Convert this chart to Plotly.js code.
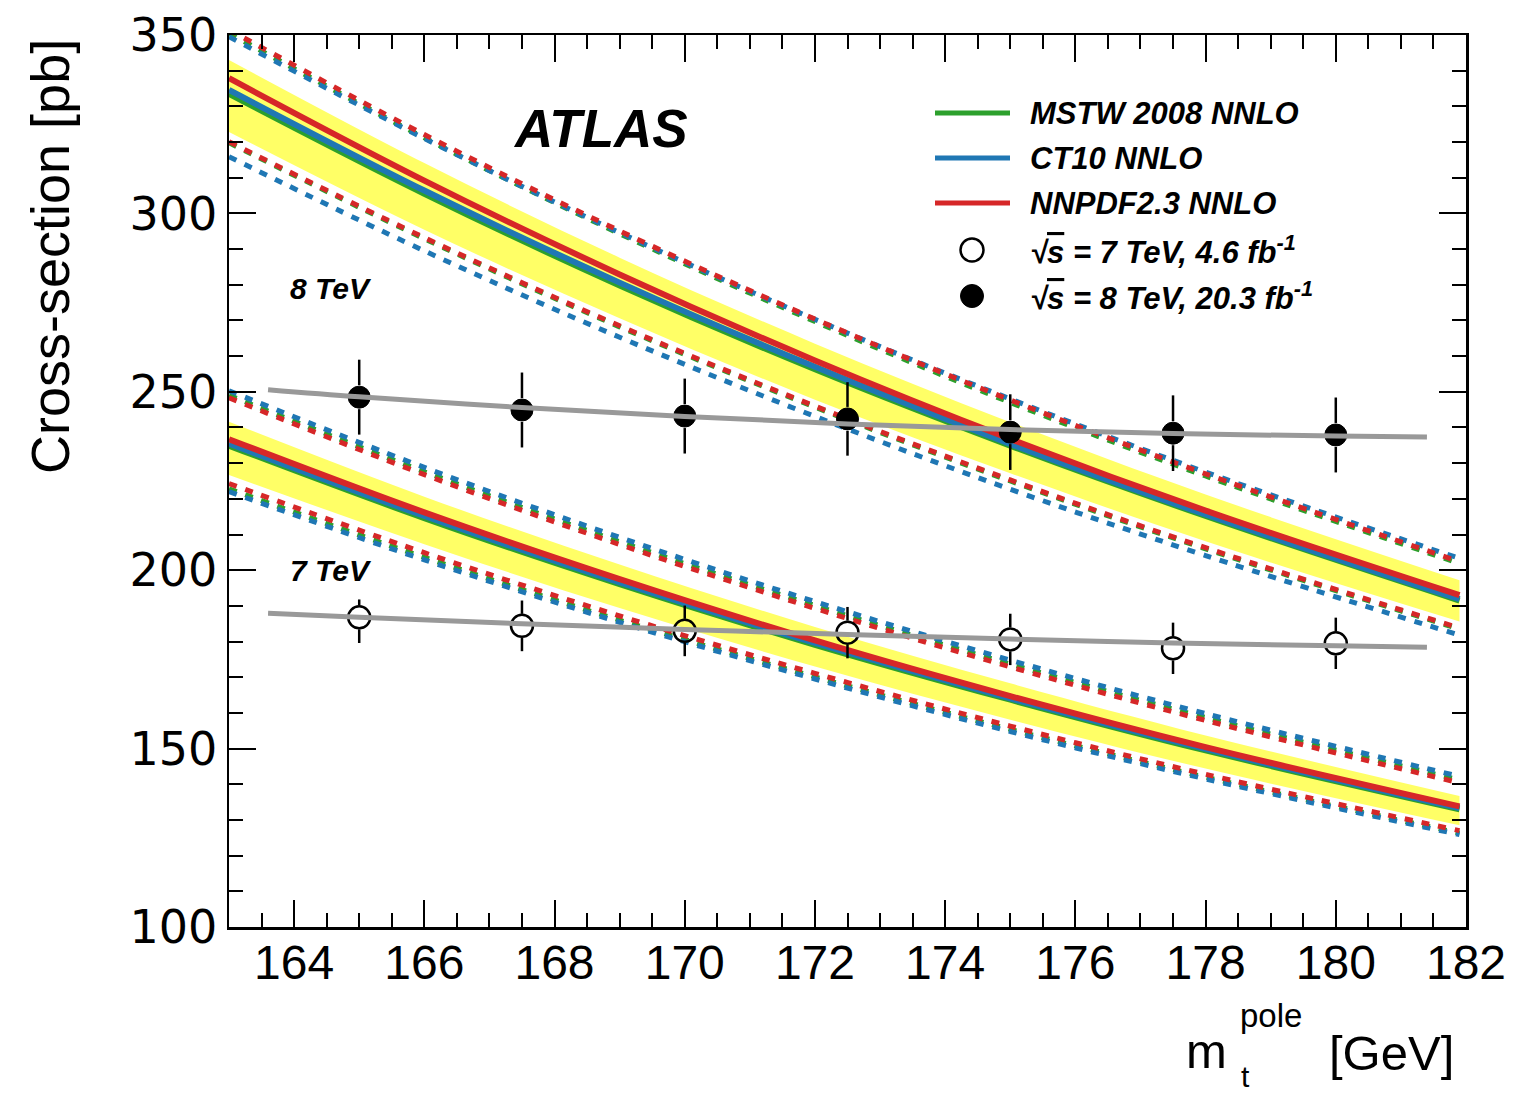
<!DOCTYPE html>
<html><head><meta charset="utf-8">
<script src="https://cdn.plot.ly/plotly-3.0.1.min.js"></script>
<style>html,body{margin:0;padding:0;background:#fff}</style>
</head><body><div id="chart" style="width:1514px;height:1096px"></div>
<script>
// ---------- data ----------
const massTheory = [163, 166, 169, 172, 175, 178, 181.9];
// 8 TeV central predictions
const mstw8  = [333.5, 305.5, 279.8, 256.3, 234.9, 215.2, 191.5];
const ct10_8 = [334.6, 306.4, 280.6, 257.0, 235.4, 215.6, 191.9];
const nnpdf8 = [337.9, 309.2, 282.9, 258.8, 236.8, 216.7, 193.0];
// 8 TeV total uncertainty (dashed)
const mstw8Up  = [350.5, 321.2, 294.3, 269.7, 247.0, 226.4, 201.9];
const ct10_8Up = [349.5, 321.0, 294.6, 270.3, 248.0, 227.5, 203.3];
const nnpdf8Up = [351.5, 322.1, 295.1, 270.4, 247.7, 227.0, 202.4];
const mstw8Dn  = [319.8, 292.9, 268.2, 245.7, 225.0, 206.0, 183.5];
const ct10_8Dn = [315.9, 289.5, 265.3, 243.1, 222.7, 204.1, 181.8];
const nnpdf8Dn = [320.1, 293.2, 268.5, 246.0, 225.3, 206.3, 183.8];
// 8 TeV QCD scale band
const scale8Up = [343.0, 314.1, 287.6, 263.5, 241.5, 221.2, 197.2];
const scale8Dn = [322.8, 295.4, 270.6, 247.8, 227.2, 208.1, 185.6];
// 7 TeV central predictions
const mstw7  = [234.9, 214.6, 196.1, 179.1, 163.7, 149.5, 133.0];
const ct10_7 = [235.5, 215.2, 196.6, 179.6, 164.1, 149.9, 133.3];
const nnpdf7 = [236.7, 216.2, 197.5, 180.3, 164.7, 150.4, 133.8];
const mstw7Up  = [249.0, 227.6, 208.0, 190.1, 173.7, 158.7, 141.2];
const ct10_7Up = [250.3, 228.8, 209.2, 191.2, 174.8, 159.8, 142.2];
const nnpdf7Up = [248.3, 226.8, 207.2, 189.3, 172.9, 157.9, 140.4];
const mstw7Dn  = [222.8, 203.6, 186.0, 170.1, 155.4, 142.0, 126.3];
const ct10_7Dn = [222.0, 202.9, 185.4, 169.5, 154.8, 141.5, 125.9];
const nnpdf7Dn = [224.3, 204.9, 187.2, 171.1, 156.3, 142.8, 127.0];
const scale7Up = [241.6, 220.6, 201.6, 184.1, 168.3, 153.7, 136.7];
const scale7Dn = [226.7, 207.3, 189.4, 173.0, 158.1, 144.4, 128.5];
// measurements
const massPoints = [165, 167.5, 170, 172.5, 175, 177.5, 180];
const xsec8 = [248.5, 244.9, 243.2, 242.4, 238.7, 238.4, 237.9];
const err8  = [10.5, 10.5, 10.5, 10.3, 10.6, 10.6, 10.5];
const xsec7 = [186.8, 184.4, 183.0, 182.5, 180.6, 178.1, 179.5];
const err7Up = [5.0, 7.1, 7.1, 7.2, 7.2, 7.2, 7.2];
const err7Dn = [7.2, 7.1, 7.1, 7.2, 7.2, 7.2, 7.2];
// parameterised mass dependence of the measurements (grey)
const massFit = [163.6, 165, 167.5, 170, 172.5, 175, 177.5, 180, 181.4];
const fit8 = [250.6, 248.6, 245.6, 243.1, 241.0, 239.4, 238.3, 237.6, 237.3];
const fit7 = [187.9, 186.8, 185.0, 183.4, 182.0, 180.7, 179.6, 178.8, 178.4];
// labels
const legendLabels = ['MSTW 2008 NNLO', 'CT10 NNLO', 'NNPDF2.3 NNLO'];
const xRange = [163, 182], yRange = [100, 350];

// ---------- style ----------
const GREEN = '#2ca02c', BLUE = '#1f77b4', RED = '#d62728', GREY = '#999999', YEL = '#ffff66';
const FONT = 'Liberation Sans, Arial, Helvetica, sans-serif';
const L = 229, R = 1466, T = 35, B = 927, W = 1514, H = 1096;
const px = x => (x - L) / (R - L);
const py = y => (B - y) / (B - T);

const traces = [];
function band(lo, hi) {
  traces.push({x: massTheory, y: lo, mode: 'lines', line: {width: 0, shape: 'spline'}, hoverinfo: 'skip', showlegend: false});
  traces.push({x: massTheory, y: hi, mode: 'lines', line: {width: 0, shape: 'spline'}, fill: 'tonexty', fillcolor: YEL, hoverinfo: 'skip', showlegend: false});
}
band(scale7Dn, scale7Up);
band(scale8Dn, scale8Up);
function line(y, color, dash, width) {
  traces.push({x: massTheory, y: y, mode: 'lines', line: {color: color, width: width, dash: dash, shape: 'spline'}, showlegend: false});
}
[[mstw8Up, GREEN], [ct10_8Up, BLUE], [nnpdf8Up, RED], [mstw8Dn, GREEN], [ct10_8Dn, BLUE], [nnpdf8Dn, RED],
 [mstw7Up, GREEN], [ct10_7Up, BLUE], [nnpdf7Up, RED], [mstw7Dn, GREEN], [ct10_7Dn, BLUE], [nnpdf7Dn, RED]]
  .forEach(d => line(d[0], d[1], '8px,9px', 5));
[[mstw8, GREEN], [ct10_8, BLUE], [nnpdf8, RED], [mstw7, GREEN], [ct10_7, BLUE], [nnpdf7, RED]]
  .forEach(d => line(d[0], d[1], 'solid', 6));

// error bars drawn outside the marker, like ROOT
const markerRadiusPx = 12;
const rData = markerRadiusPx * (yRange[1] - yRange[0]) / (B - T);
function errSegs(vals, up, dn) {
  const xs = [], ys = [];
  vals.forEach((v, i) => {
    const m = massPoints[i];
    if (up[i] > rData) { xs.push(m, m, null); ys.push(v + up[i], v + rData, null); }
    if (dn[i] > rData) { xs.push(m, m, null); ys.push(v - rData, v - dn[i], null); }
  });
  return {x: xs, y: ys, mode: 'lines', line: {color: 'black', width: 2.5}, showlegend: false, hoverinfo: 'skip'};
}
traces.push(errSegs(xsec8, err8, err8));
traces.push(errSegs(xsec7, err7Up, err7Dn));
traces.push({x: massPoints, y: xsec8, mode: 'markers', marker: {symbol: 'circle', size: 22, color: 'black', line: {width: 1, color: 'black'}}, showlegend: false});
traces.push({x: massPoints, y: xsec7, mode: 'markers', marker: {symbol: 'circle-open', size: 22, color: 'black', line: {width: 2.5, color: 'black'}}, showlegend: false});
traces.push({x: massFit, y: fit8, mode: 'lines', line: {color: GREY, width: 5, shape: 'spline'}, showlegend: false});
traces.push({x: massFit, y: fit7, mode: 'lines', line: {color: GREY, width: 5, shape: 'spline'}, showlegend: false});

// ---------- legend (drawn as in the ROOT figure) ----------
const shapes = [];
const annotations = [];
const legRows = [113, 158, 203, 250, 296];
[GREEN, BLUE, RED].forEach((c, i) => {
  shapes.push({type: 'line', xref: 'paper', yref: 'paper', x0: px(935), x1: px(1010), y0: py(legRows[i]), y1: py(legRows[i]), line: {color: c, width: 5}});
});
function circ(cx, cy, r, fill, lw) {
  shapes.push({type: 'circle', xref: 'paper', yref: 'paper', x0: px(cx - r), x1: px(cx + r), y0: py(cy + r), y1: py(cy - r),
    fillcolor: fill, line: {color: 'black', width: lw}});
}
circ(972, legRows[3], 11.5, 'rgba(0,0,0,0)', 2.5);
circ(972, legRows[4], 11.5, 'black', 1);
const legTexts = legendLabels.concat([
  '√<span style="text-decoration:overline">s</span> = 7 TeV, 4.6 fb<sup>-1</sup>',
  '√<span style="text-decoration:overline">s</span> = 8 TeV, 20.3 fb<sup>-1</sup>']);
legTexts.forEach((t, i) => annotations.push({xref: 'paper', yref: 'paper', x: px(1028), y: py(legRows[i]), xanchor: 'left', yanchor: 'middle',
  text: t, showarrow: false, font: {family: FONT, size: 31, color: 'black', weight: 'bold', style: 'italic'}}));

annotations.push({xref: 'paper', yref: 'paper', x: px(600), y: py(128), xanchor: 'center', yanchor: 'middle', text: 'ATLAS', showarrow: false,
  font: {family: FONT, size: 53, color: 'black', weight: 'bold', style: 'italic'}});
annotations.push({xref: 'paper', yref: 'paper', x: px(288), y: py(288), xanchor: 'left', yanchor: 'middle', text: '8 TeV', showarrow: false,
  font: {family: FONT, size: 30, color: 'black', weight: 'bold', style: 'italic'}});
annotations.push({xref: 'paper', yref: 'paper', x: px(288), y: py(570), xanchor: 'left', yanchor: 'middle', text: '7 TeV', showarrow: false,
  font: {family: FONT, size: 30, color: 'black', weight: 'bold', style: 'italic'}});
// axis titles (ROOT style: aligned to the end of the axis)
annotations.push({xref: 'paper', yref: 'paper', x: px(50), y: py(257), xanchor: 'center', yanchor: 'middle', textangle: -90,
  text: 'Cross-section [pb]', showarrow: false, font: {family: FONT, size: 54, color: 'black'}});
annotations.push({xref: 'paper', yref: 'paper', x: px(1206), y: py(1051), xanchor: 'center', yanchor: 'middle', text: 'm', showarrow: false, font: {family: FONT, size: 49, color: 'black'}});
annotations.push({xref: 'paper', yref: 'paper', x: px(1238), y: py(1016), xanchor: 'left', yanchor: 'middle', text: 'pole', showarrow: false, font: {family: FONT, size: 33, color: 'black'}});
annotations.push({xref: 'paper', yref: 'paper', x: px(1239), y: py(1076), xanchor: 'left', yanchor: 'middle', text: 't', showarrow: false, font: {family: FONT, size: 30, color: 'black'}});
annotations.push({xref: 'paper', yref: 'paper', x: px(1391), y: py(1053), xanchor: 'center', yanchor: 'middle', text: '[GeV]', showarrow: false, font: {family: FONT, size: 49, color: 'black'}});

const axisCommon = {showline: true, linewidth: 2.5, linecolor: 'black', mirror: 'ticks', ticks: 'inside', ticklen: 27, tickwidth: 2,
  tickcolor: 'black', showgrid: false, zeroline: false, tickfont: {family: FONT, size: 48, color: 'black'}, fixedrange: true};
const layout = {
  width: W, height: H, paper_bgcolor: 'white', plot_bgcolor: 'white', showlegend: false,
  margin: {l: L, r: W - R, t: T, b: H - B},
  xaxis: Object.assign({}, axisCommon, {range: xRange, tick0: 164, dtick: 2, ticklabelstandoff: -8,
    minor: {dtick: 0.5, tick0: 164, ticks: 'inside', ticklen: 14, tickwidth: 2, tickcolor: 'black'}}),
  yaxis: Object.assign({}, axisCommon, {range: yRange, tick0: 100, dtick: 50, ticklabelstandoff: 0,
    tickfont: {family: 'DejaVu Sans, Liberation Sans, sans-serif', size: 46, color: 'black'},
    minor: {dtick: 10, tick0: 100, ticks: 'inside', ticklen: 14, tickwidth: 2, tickcolor: 'black'}}),
  shapes: shapes, annotations: annotations
};
Plotly.newPlot('chart', traces, layout, {staticPlot: true, displayModeBar: false});
</script></body></html>
